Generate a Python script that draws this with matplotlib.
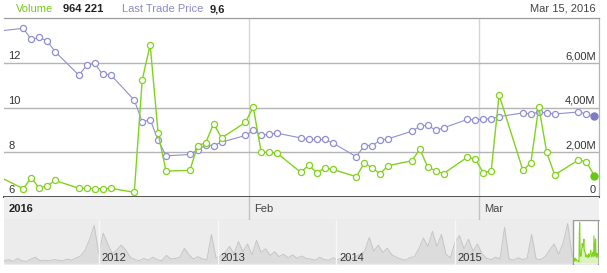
import matplotlib.pyplot as plt
import matplotlib.dates as mdates
import numpy as np
import pandas as pd
from matplotlib.patches import Rectangle

plt.rcParams['font.family'] = ['Liberation Sans', 'DejaVu Sans']

# daily data, last trading day of 2015 then Jan 4 .. Mar 16 2016
days = ['2015-12-31'] + [d.strftime('%Y-%m-%d') for d in pd.bdate_range('2016-01-04', '2016-03-16')]
price = [13.38,
         13.54, 13.04, 13.13, 12.98, 12.50,
         11.45, 11.88, 11.98, 11.48, 11.47,
         10.33, 9.35, 9.46, 8.54, 7.84,
         7.90, 8.11, 8.32, 8.30, 8.45,
         8.75, 8.98, 8.75, 8.82, 8.85,
         8.64, 8.57, 8.57, 8.57, 8.42,
         7.80, 8.30, 8.30, 8.53, 8.60,
         8.94, 9.16, 9.21, 8.98, 9.09,
         9.47, 9.44, 9.49, 9.49, 9.59,
         9.76, 9.70, 9.80, 9.76, 9.71,
         9.80, 9.71, 9.61]
volume_m = [1.08,
            0.37, 0.86, 0.40, 0.49, 0.74,
            0.39, 0.39, 0.37, 0.37, 0.39,
            0.21, 5.24, 6.80, 2.86, 1.16,
            1.19, 2.30, 2.42, 3.28, 2.64,
            3.33, 4.02, 2.00, 2.00, 1.96,
            1.10, 1.43, 1.08, 1.29, 1.23,
            0.91, 1.53, 1.29, 1.04, 1.40,
            1.62, 2.14, 1.34, 1.17, 1.05,
            1.78, 1.69, 1.08, 1.17, 4.56,
            1.19, 1.53, 4.04, 1.99, 0.99,
            1.65, 1.57, 0.96]

price_ticks = [6, 8, 10, 12]
volume_ticks = [0, 2, 4, 6]
volume_labels = ['0', '2,00M', '4,00M', '6,00M']
months = [('2016', '2016-01-01'), ('Feb', '2016-02-01'), ('Mar', '2016-03-01')]

# navigator history, roughly two weeks per value (millions)
nav_volume = [0.4, 0.6, 0.3, 0.8, 0.4, 0.3, 0.7, 1.0, 0.4, 0.5, 0.4, 0.6, 0.5, 0.4, 0.7, 0.5, 0.9,
              1.2, 2.2, 4.0, 6.3, 1.6,
              5.0, 3.2, 1.6, 2.2, 3.0, 2.2, 1.0,
              0.6, 0.4, 0.8, 0.5, 1.0, 0.6, 0.4, 1.3, 0.7, 0.8,
              1.0, 2.5, 1.4, 0.7, 1.1, 0.7, 0.6, 4.8, 0.9,
              1.2, 1.8, 2.8, 1.6, 3.6, 1.9, 3.2, 1.4, 3.8, 1.8, 2.4, 1.3, 1.9, 1.1, 1.5, 0.9, 1.4, 0.8, 1.2, 0.8,
              0.7, 0.5, 1.0, 0.6, 0.5, 0.9, 0.6,
              0.9, 1.3, 0.7, 1.1, 1.5, 2.0,
              4.3, 2.0, 3.0, 1.8, 2.5, 1.4, 1.0,
              0.7, 0.5, 0.9, 1.1,
              2.4, 4.2, 2.8, 5.3, 2.8, 4.8,
              1.5, 0.9, 3.5,
              4.6, 2.4, 4.0, 2.0, 3.2, 1.6,
              0.8, 0.6, 1.0, 0.7,
              6.0,
              0.7, 0.5, 0.9, 0.6, 0.8,
              4.8,
              0.7, 0.6, 1.1,
              2.2, 3.2, 1.5, 3.4, 6.6, 1.2]
years = ['2012', '2013', '2014', '2015']

GREEN = '#82d21e'
PURPLE = '#8f8fd2'

x = pd.to_datetime(days)
month_lines = [pd.Timestamp(d) + pd.Timedelta(hours=12) for _, d in months[1:]]
x0 = pd.Timestamp('2016-01-01') + pd.Timedelta(days=0.57)
x1 = pd.Timestamp('2016-01-01') + pd.Timedelta(days=75.53)

fig = plt.figure(figsize=(6.07, 2.73), dpi=100)
L, W = 4 / 607, 594.5 / 607
ax = fig.add_axes([L, 76 / 273, W, 179 / 273])
axv = ax.twinx()

ax.set_xlim(x0, x1)
ax.set_ylim(6, 14)
axv.set_ylim(0, 8)
ax.set_yticks(price_ticks[1:])
ax.set_xticks(month_lines)
ax.grid(True, axis='y', color='#b4b4b4', lw=1)
ax.grid(True, axis='x', color='#d6d6d6', lw=1)
for a in (ax, axv):
    a.tick_params(left=False, right=False, bottom=False, labelleft=False, labelright=False, labelbottom=False)
    a.spines['left'].set_visible(False)
    a.spines['top'].set_color('#9a9a9a')
    a.spines['right'].set_color('#b4b4b4')
    a.spines['bottom'].set_color('#555555')
    a.spines['bottom'].set_linewidth(1.4)

mk = dict(marker='o', ms=4.4, mfc='white', mew=0.9)
ax.plot(x, price, color=PURPLE, lw=0.8, mec=PURPLE, zorder=3, **mk)
ax.plot(x[-1], price[-1], 'o', ms=5, color='#7c7cc8', zorder=4)
axv.plot(x, volume_m, color=GREEN, lw=1.0, mec=GREEN, zorder=3, **mk)
axv.plot(x[-1], volume_m[-1], 'o', ms=5, color='#66c814', zorder=4)

for v in price_ticks:
    ax.annotate(str(v), xy=(0, v), xycoords=('axes fraction', 'data'), xytext=(3, 1.2),
                textcoords='offset points', ha='left', va='bottom', fontsize=8, color='#333333')
for v, s in zip(volume_ticks, volume_labels):
    axv.annotate(s, xy=(1, v), xycoords=('axes fraction', 'data'), xytext=(-2, 1.2),
                 textcoords='offset points', ha='right', va='bottom', fontsize=8, color='#333333')

# header
fig.text(16 / 607, 1 - 9 / 273, 'Volume', color='#7cc61e', fontsize=8, va='center')
fig.text(63 / 607, 1 - 9 / 273, '964 221', color='#222222', fontsize=8, fontweight='bold', va='center')
fig.text(122 / 607, 1 - 9 / 273, 'Last Trade Price', color='#8a8ac8', fontsize=8, va='center')
fig.text(210 / 607, 1 - 9 / 273, '9,6', color='#222222', fontsize=8, fontweight='bold', va='center')
fig.text(596 / 607, 1 - 8.5 / 273, 'Mar 15, 2016', color='#444444', fontsize=8, ha='right', va='center')

# month band
axd = fig.add_axes([L, 53 / 273, W, 23 / 273], facecolor='#efefef')
axd.set_xlim(x0, x1)
axd.set_ylim(0, 1)
axd.set_xticks([])
axd.set_yticks([])
for s in ('left', 'right', 'top'):
    axd.spines[s].set_visible(False)
axd.spines['bottom'].set_color('#a8a8a8')
for m in month_lines:
    axd.axvline(m, color='#c4c4c4', lw=1)
axd.annotate(months[0][0], xy=(0, 0.5), xycoords='axes fraction', xytext=(3, 0),
             textcoords='offset points', va='center', fontsize=8, fontweight='bold', color='#222222')
for (name, _), m in zip(months[1:], month_lines):
    axd.annotate(name, xy=(m, 0.5), xycoords=('data', 'axes fraction'), xytext=(3.5, 0),
                 textcoords='offset points', va='center', fontsize=8, color='#444444')

# navigator
axn = fig.add_axes([L, 8 / 273, W, 45 / 273], facecolor='#ececec')
nav_x = pd.date_range('2011-03-15', '2015-12-28', periods=len(nav_volume))
sel0 = pd.Timestamp('2016-01-01')
axn.set_xlim(pd.Timestamp('2011-03-15'), pd.Timestamp('2016-03-18'))
axn.set_ylim(-0.3, 7.2)
axn.set_xticks([])
axn.set_yticks([])
for s in axn.spines.values():
    s.set_visible(False)
axn.fill_between(nav_x, 0, nav_volume, color='#dcdcdc', lw=0)
axn.plot(nav_x, nav_volume, color='#c6c6c6', lw=0.7)
for y in years:
    t = pd.Timestamp(y + '-01-01')
    axn.axvline(t, color='#f7f7f7', lw=1)
    axn.annotate(y, xy=(t, 0), xycoords=('data', 'axes fraction'), xytext=(2, 1.5),
                 textcoords='offset points', va='bottom', fontsize=8, color='#333333')
axn.add_patch(Rectangle((mdates.date2num(sel0), -0.3), mdates.date2num(pd.Timestamp('2016-03-18')) - mdates.date2num(sel0),
                        7.5, facecolor='white', edgecolor='#9a9a9a', lw=1, zorder=2))
axn.fill_between(x[1:], 0, volume_m[1:], color='#dcf3c0', lw=0, zorder=3)
axn.plot(x[1:], volume_m[1:], color=GREEN, lw=0.8, zorder=4)

fig.savefig('out.png', dpi=100)
